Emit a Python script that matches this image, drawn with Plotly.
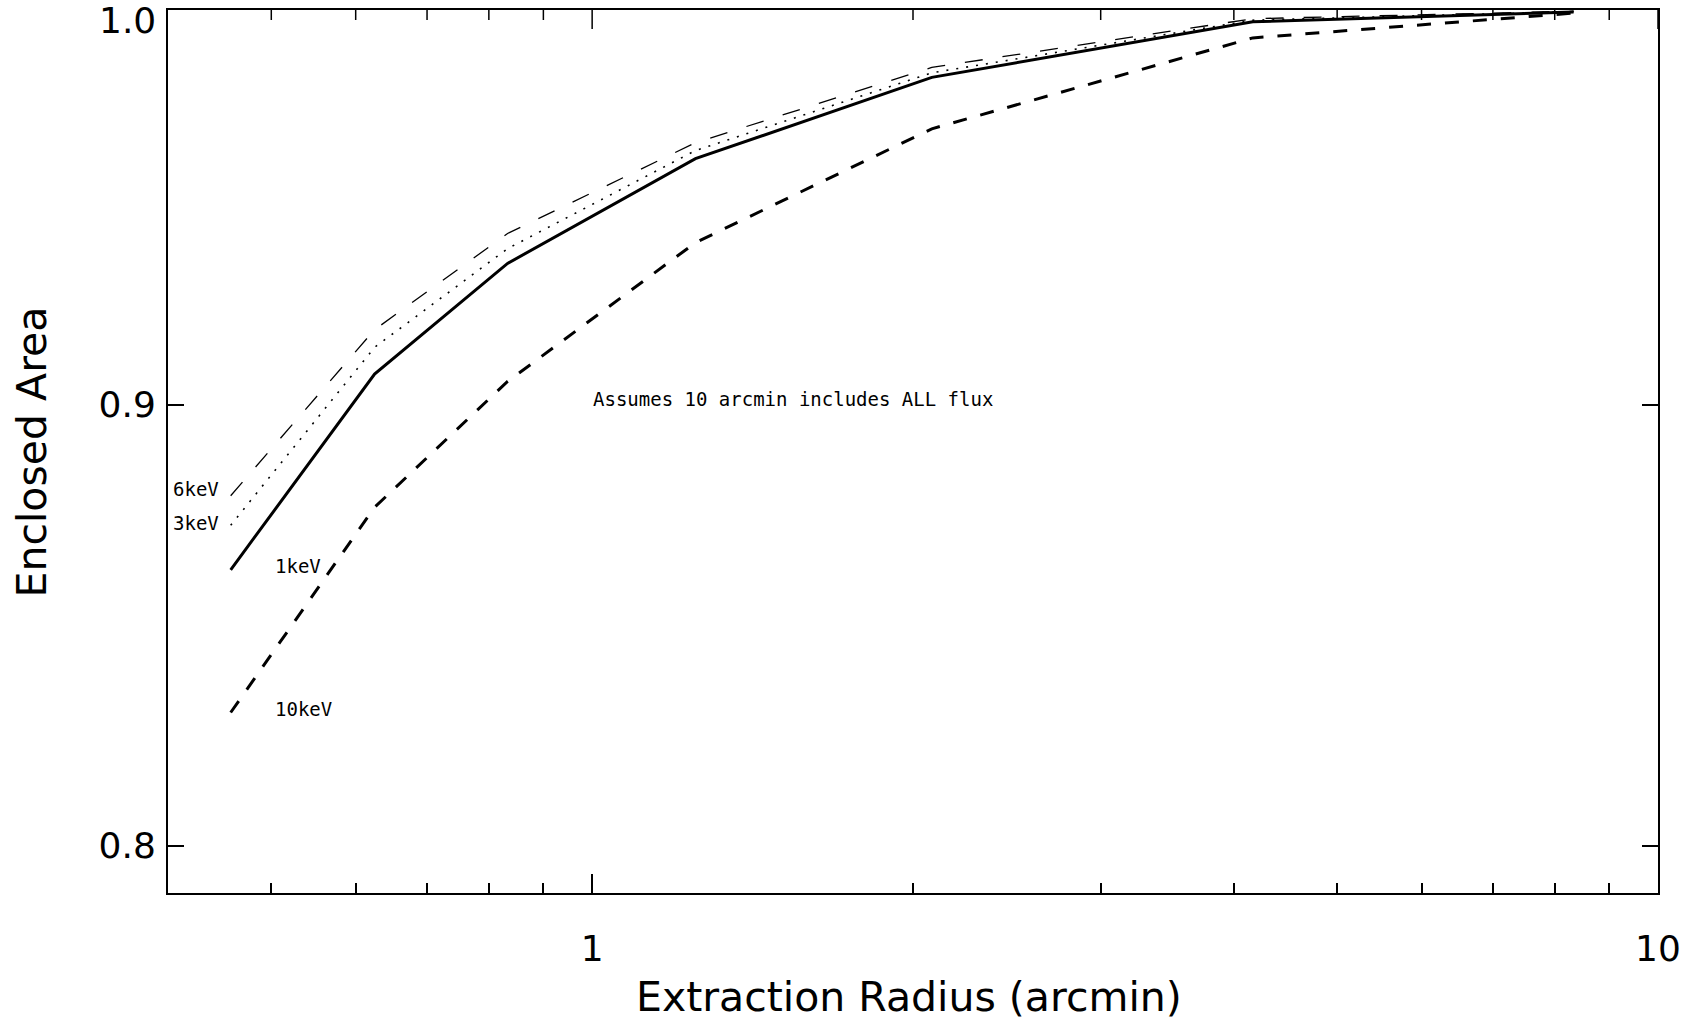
import math
import plotly.graph_objects as go

# ---- data ----
radius_arcmin = [0.458, 0.625, 0.833, 1.25, 2.083, 4.167, 8.333]
ee_1keV = [0.8612, 0.9074, 0.9346, 0.9611, 0.9822, 0.9969, 0.9995]
ee_3keV = [0.8715, 0.9139, 0.9383, 0.9632, 0.9834, 0.9973, 0.9996]
ee_6keV = [0.8784, 0.9182, 0.9421, 0.9652, 0.9848, 0.9977, 0.9997]
ee_10keV = [0.8290, 0.8757, 0.9056, 0.9398, 0.9688, 0.9926, 0.9992]

x_major_ticks = [1, 10]
x_major_text = ["1", "10"]
x_minor_ticks = [0.5, 0.6, 0.7, 0.8, 0.9, 2, 3, 4, 5, 6, 7, 8, 9]
y_ticks = [0.8, 0.9, 1.0]
y_tick_text = ["0.8", "0.9", "1.0"]

x_range = [0.4, 10]
y_range = [0.79, 1.0]

FONT = "DejaVu Sans"
MONO = "DejaVu Sans Mono"
MAJOR_LEN, MINOR_LEN = 19, 10
WIDTH, HEIGHT = 1698, 1025
MARGIN = dict(l=168, r=40, t=10, b=132)
PLOT_H = HEIGHT - MARGIN["t"] - MARGIN["b"]

fig = go.Figure()
fig.add_trace(go.Scatter(x=radius_arcmin, y=ee_6keV, mode="lines", name="6keV",
                         line=dict(color="black", width=1.3, dash="18px,20px")))
fig.add_trace(go.Scatter(x=radius_arcmin, y=ee_3keV, mode="lines", name="3keV",
                         line=dict(color="black", width=1.6, dash="2px,8px")))
fig.add_trace(go.Scatter(x=radius_arcmin, y=ee_1keV, mode="lines", name="1keV",
                         line=dict(color="black", width=3)))
fig.add_trace(go.Scatter(x=radius_arcmin, y=ee_10keV, mode="lines", name="10keV",
                         line=dict(color="black", width=3, dash="14px,14px")))
# invisible trace so the right-hand tick axis is drawn
fig.add_trace(go.Scatter(x=radius_arcmin, y=ee_1keV, mode="lines", yaxis="y2",
                         line=dict(color="rgba(0,0,0,0)", width=0), hoverinfo="skip",
                         showlegend=False))

xr = [math.log10(x_range[0]), math.log10(x_range[1])]
yr = [math.log10(y_range[0]), math.log10(y_range[1]) + 1e-5]

# top-frame tick marks (IDL box style), placed through the log x scale
def x_frac(v):
    return (math.log10(v) - xr[0]) / (xr[1] - xr[0])

for vals, length in ((x_major_ticks, MAJOR_LEN), (x_minor_ticks, MINOR_LEN)):
    for v in vals:
        fig.add_shape(type="line", xref="paper", yref="paper",
                      x0=x_frac(v), x1=x_frac(v), y0=1.0, y1=1.0 - length / PLOT_H,
                      line=dict(color="black", width=1.5), layer="above")

def y_style():
    return dict(
        type="log", range=yr,
        ticks="inside", ticklen=16, tickwidth=1.5, tickcolor="black",
        tickmode="array", tickvals=y_ticks,
        showgrid=False, zeroline=False,
    )

fig.update_layout(
    xaxis=dict(type="log", range=xr,
               ticks="inside", ticklen=MAJOR_LEN, tickwidth=1.5, tickcolor="black",
               tickmode="array", tickvals=x_major_ticks, ticktext=x_major_text,
               minor=dict(ticks="inside", ticklen=MINOR_LEN, tickwidth=1.5,
                          tickcolor="black", tickmode="array", tickvals=x_minor_ticks,
                          showgrid=False),
               showgrid=False, zeroline=False,
               showline=True, linecolor="black", linewidth=2, mirror=True,
               ticklabelstandoff=23,
               tickfont=dict(family=FONT, size=36, color="black")),
    yaxis=dict(**y_style(), showline=True, linecolor="black", linewidth=2, mirror=True,
               ticktext=[t if v != 1.0 else "" for v, t in zip(y_ticks, y_tick_text)],
               ticklabelstandoff=3,
               tickfont=dict(family=FONT, size=36, color="black")),
    yaxis2=dict(**y_style(), overlaying="y", side="right", anchor="x",
                showline=False, showticklabels=False),
)

# top tick label placed just under the frame, as in the reference
fig.add_annotation(text=y_tick_text[y_ticks.index(1.0)], xref="paper", yref="y",
                   x=-0.007, y=math.log10(1.0), xanchor="right", yanchor="top", yshift=12,
                   showarrow=False, font=dict(family=FONT, size=36, color="black"))

small = dict(family=MONO, size=19, color="black")
labels = [
    ("6keV", 0.002, 0.4575),
    ("3keV", 0.002, 0.419),
    ("1keV", 0.0705, 0.370),
    ("10keV", 0.0705, 0.2084),
    ("Assumes 10 arcmin includes ALL flux", 0.284, 0.5594),
]
for txt, px, py in labels:
    fig.add_annotation(text=txt, xref="paper", yref="paper", x=px, y=py,
                       xanchor="left", yanchor="middle", showarrow=False, font=small)

fig.add_annotation(text="Extraction Radius (arcmin)", xref="paper", yref="paper",
                   x=0.497, y=-0.1178, xanchor="center", yanchor="middle",
                   showarrow=False, font=dict(family=FONT, size=41, color="black"))
fig.add_annotation(text="Enclosed Area", xref="paper", yref="paper",
                   x=-0.0913, y=0.5, xanchor="center", yanchor="middle", textangle=-90,
                   showarrow=False, font=dict(family=FONT, size=41, color="black"))

fig.update_layout(
    width=WIDTH, height=HEIGHT,
    margin=dict(**MARGIN, autoexpand=False),
    paper_bgcolor="white", plot_bgcolor="white",
    showlegend=False,
)

fig.write_html("out.html")
